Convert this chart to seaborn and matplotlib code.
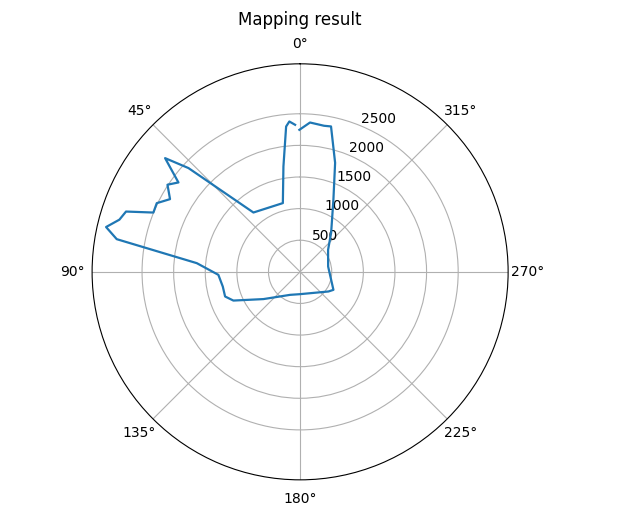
import numpy as np
import pandas as pd
import matplotlib
matplotlib.use("Agg")
import matplotlib.pyplot as plt
import seaborn as sns

angle_deg = [1.95, 4.1, 5.5, 9.0, 14.1, 38.2, 47.1, 49.9, 53.7, 56.7, 60.8,
             64.4, 68.0, 70.9, 73.9, 77.0, 79.9, 85.2, 92.1, 100.8, 108.2,
             113.3, 126.6, 156.5, 180.0, 235.2, 241.6, 280.7, 308.2, 321.5,
             335.2, 342.2, 348.0, 350.7, 356.2, 360.3]
distance = [2327, 2384, 2309, 1687, 1121, 1194, 2411, 2792, 2388, 2510, 2357,
            2514, 2503, 2914, 2975, 3150, 2946, 1640, 1294, 1245, 1249,
            1149, 723, 397, 353, 545, 599, 451, 563, 788,
            1255, 1811, 2351, 2341, 2367, 2246]

df = pd.DataFrame({"theta": np.deg2rad(angle_deg), "r": distance})

fig = plt.figure(figsize=(6.22, 5.21), dpi=100)
ax = fig.add_axes([0.148, 0.079, 0.669, 0.7985], projection="polar")

sns.lineplot(data=df, x="theta", y="r", sort=False, estimator=None,
             color="#1f77b4", linewidth=1.6, ax=ax)

ax.set_theta_zero_location("N")
ax.set_theta_direction(1)
ax.set_rlim(0, 3290)
ax.set_rticks([500, 1000, 1500, 2000, 2500])
ax.set_rlabel_position(-22.5)
ax.set_xlabel("")
ax.set_ylabel("")
ax.grid(True)
ax.set_title("Mapping result", pad=9)

fig.savefig("out.png", dpi=100)
